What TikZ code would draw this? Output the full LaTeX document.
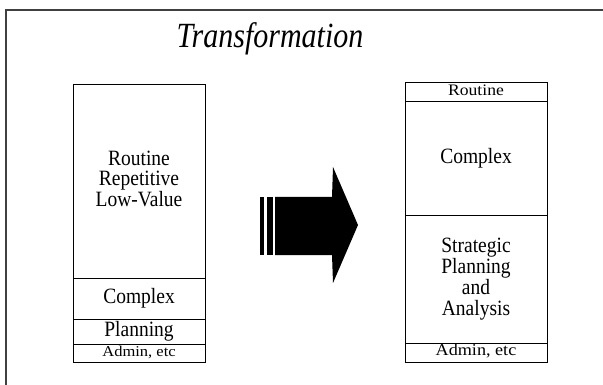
\documentclass[tikz,border=0pt]{standalone}
\usepackage{fontspec}
\setmainfont{Liberation Serif}
% centred block of lines: x-scale, y-scale, font size, line skip, lines
\newcommand{\blocktext}[5]{\scalebox{#1}[#2]{\fontsize{#3}{#4}\selectfont\begin{tabular}{@{}c@{}}#5\end{tabular}}}
\begin{document}
\begin{tikzpicture}[x=1pt,y=-1pt,
  frameline/.style={draw=black!75, line width=1.3pt},
  leftseg/.style={draw=black, line width=1pt, minimum width=132pt, inner sep=0pt},
  rightseg/.style={draw=black, line width=1pt, minimum width=142pt, inner sep=0pt},
  bigarrow/.style={fill=black}]
\useasboundingbox (0,0) rectangle (603,385);

% page frame
\coordinate (ftl) at (6,10);
\coordinate (ftr) at (603,10);
\coordinate (fbl) at (6,385);
\draw[frameline] (fbl) -- (ftl) -- (ftr);

% title
\node[anchor=base, inner sep=0pt] (title) at (270,48)
  {\scalebox{1}[1.18]{\fontsize{30}{30}\selectfont\itshape Transformation}};

% left column
\node[leftseg, minimum height=193pt] (l1) at (139,181.5)
  {\blocktext{1}{1.12}{19.5}{17.5}{Routine\\Repetitive\\Low-Value}};
\node[leftseg, minimum height=41pt] (l2) at (139,298.5)
  {\blocktext{1}{1.12}{19.5}{17.5}{Complex}};
\node[leftseg, minimum height=25pt] (l3) at (139,331.5)
  {\blocktext{1}{1.12}{19.5}{17.5}{Planning}};
\node[leftseg, minimum height=18pt] (l4) at (139,353)
  {\blocktext{1.1}{1}{15}{15}{Admin, etc}};

% right column
\node[rightseg, minimum height=19pt] (r1) at (476,92.5)
  {\blocktext{1.1}{1}{16}{16}{Routine}};
\node[rightseg, minimum height=114pt] (r2) at (476,159)
  {\blocktext{1}{1.12}{19.5}{17.5}{Complex}};
\node[rightseg, minimum height=127pt] (r3) at (476,279.5)
  {\blocktext{1}{1.12}{19.5}{17.5}{Strategic\\Planning\\and\\Analysis}};
\node[rightseg, minimum height=19pt] (r4) at (476,352.5)
  {\blocktext{1.1}{1}{16.5}{16.5}{Admin, etc}};

% block arrow with two trailing bars
\fill[bigarrow] (260,197) rectangle (264,255);
\fill[bigarrow] (267,197) rectangle (273,255);
\fill[bigarrow] (275,197) -- (332,197) -- (333,167) -- (358,225)
  -- (333,283) -- (332,255) -- (275,255) -- cycle;
\end{tikzpicture}
\end{document}
